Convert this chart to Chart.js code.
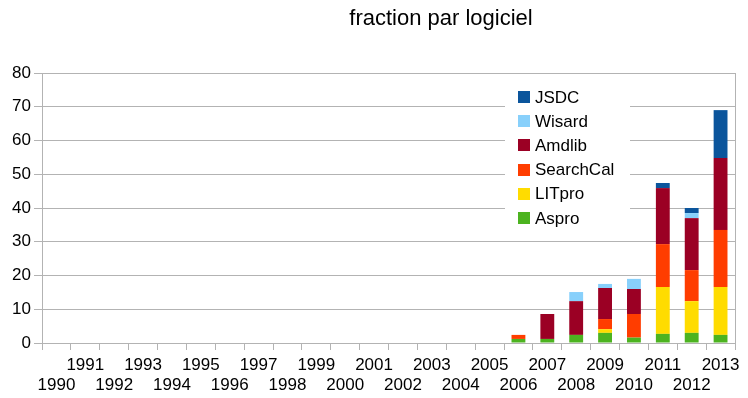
<!DOCTYPE html>
<html>
<head>
<meta charset="utf-8">
<script src="https://cdn.jsdelivr.net/npm/chart.js@4.4.1/dist/chart.umd.min.js"></script>
<style>
  html, body { margin: 0; padding: 0; background: #fff; }
  #wrap { width: 748px; height: 398px; }
</style>
</head>
<body>
<div id="wrap"><canvas id="chart" width="748" height="398"></canvas></div>
<script>
// annees
const years = ['1990','1991','1992','1993','1994','1995','1996','1997','1998','1999','2000','2001',
               '2002','2003','2004','2005','2006','2007','2008','2009','2010','2011','2012','2013'];

// valeurs par logiciel (1990 -> 2013)
const aspro     = [0,0,0,0,0,0,0,0,0,0,0,0,0,0,0,0, 1.2, 1.2, 2.4, 3.0, 1.6, 2.7, 3.0, 2.4];
const litpro    = [0,0,0,0,0,0,0,0,0,0,0,0,0,0,0,0, 0,   0,   0,   1.1, 0,   13.9, 9.4, 14.2];
const searchcal = [0,0,0,0,0,0,0,0,0,0,0,0,0,0,0,0, 1.2, 0,   0,   3.0, 7.0, 12.7, 9.2, 16.9];
const amdlib    = [0,0,0,0,0,0,0,0,0,0,0,0,0,0,0,0, 0,   7.4, 10.0, 9.2, 7.4, 16.6, 15.4, 21.3];
const wisard    = [0,0,0,0,0,0,0,0,0,0,0,0,0,0,0,0, 0,   0,   2.7, 1.2, 3.0, 0,   1.5, 0];
const jsdc      = [0,0,0,0,0,0,0,0,0,0,0,0,0,0,0,0, 0,   0,   0,   0,   0,   1.5, 1.5, 14.2];

const yTicks = [0, 10, 20, 30, 40, 50, 60, 70, 80];

const gridColor = '#b3b3b3';
const fontFamily = '"Liberation Sans", Arial, sans-serif';

// titre centre comme dans l'original
const titlePlugin = {
    id: 'titre',
    afterDraw(chart) {
        const ctx = chart.ctx;
        ctx.save();
        ctx.fillStyle = '#000';
        ctx.font = '22px ' + fontFamily;
        ctx.textAlign = 'center';
        ctx.textBaseline = 'middle';
        ctx.fillText('fraction par logiciel', 441, 19);
        ctx.restore();
    }
};

// bordure droite du graphique
const borderPlugin = {
    id: 'bordure',
    beforeDatasetsDraw(chart) {
        const a = chart.chartArea;
        const ctx = chart.ctx;
        ctx.save();
        ctx.strokeStyle = gridColor;
        ctx.lineWidth = 1;
        ctx.beginPath();
        ctx.moveTo(Math.round(a.right) + 0.5, a.top);
        ctx.lineTo(Math.round(a.right) + 0.5, a.bottom + 7);
        ctx.stroke();
        ctx.restore();
    }
};

// legende dans la zone du graphique (ordre inverse)
const legendPlugin = {
    id: 'legendeInterne',
    afterDraw(chart) {
        const ctx = chart.ctx;
        const sets = chart.data.datasets.slice().reverse();
        ctx.save();
        ctx.fillStyle = '#fff';
        ctx.fillRect(505, 81, 125, 150);
        ctx.font = '17px ' + fontFamily;
        ctx.textBaseline = 'middle';
        sets.forEach(function(ds, i) {
            let y = 97 + i * 24.2;
            ctx.fillStyle = ds.backgroundColor;
            ctx.fillRect(518, Math.round(y - 6), 12, 12);
            ctx.fillStyle = '#000';
            ctx.fillText(ds.label, 535, y + 1);
        });
        ctx.restore();
    }
};

const ctx = document.getElementById('chart').getContext('2d');

new Chart(ctx, {
    type: 'bar',
    data: {
        labels: years,
        datasets: [
            { label: 'Aspro',     data: aspro,     backgroundColor: '#4cb320' },
            { label: 'LITpro',    data: litpro,    backgroundColor: '#ffdc00' },
            { label: 'SearchCal', data: searchcal, backgroundColor: '#ff3d00' },
            { label: 'Amdlib',    data: amdlib,    backgroundColor: '#9b0024' },
            { label: 'Wisard',    data: wisard,    backgroundColor: '#88d0fb' },
            { label: 'JSDC',      data: jsdc,      backgroundColor: '#0b559c' }
        ]
    },
    options: {
        responsive: false,
        animation: false,
        datasets: {
            bar: {
                barPercentage: 0.48,
                categoryPercentage: 1.0,
                borderWidth: 0
            }
        },
        layout: {
            padding: { top: 73, right: 13, left: 0, bottom: 0 }
        },
        plugins: {
            legend: { display: false },
            title: { display: false },
            tooltip: { enabled: false }
        },
        scales: {
            x: {
                stacked: true,
                offset: true,
                grid: {
                    display: true,
                    offset: true,
                    drawOnChartArea: false,
                    drawTicks: true,
                    tickLength: 7,
                    color: gridColor
                },
                border: { color: gridColor },
                ticks: {
                    autoSkip: false,
                    maxRotation: 0,
                    minRotation: 0,
                    padding: 5,
                    color: '#000',
                    font: { family: fontFamily, size: 17, lineHeight: 1.18 },
                    callback: function(value, index) {
                        let label = this.getLabelForValue(value);
                        // annees impaires en haut, paires en bas
                        return index % 2 === 1 ? [label, ''] : ['', label];
                    }
                },
                afterFit: function(scale) {
                    scale.height = 55;
                }
            },
            y: {
                stacked: true,
                min: 0,
                max: 80,
                afterBuildTicks: function(scale) {
                    scale.ticks = yTicks.map(v => ({ value: v }));
                },
                grid: {
                    color: gridColor,
                    tickLength: 8
                },
                border: { color: gridColor },
                ticks: {
                    padding: 3,
                    color: '#000',
                    font: { family: fontFamily, size: 17 }
                },
                afterFit: function(scale) {
                    scale.width = 42;
                }
            }
        }
    },
    plugins: [titlePlugin, borderPlugin, legendPlugin]
});
</script>
</body>
</html>
